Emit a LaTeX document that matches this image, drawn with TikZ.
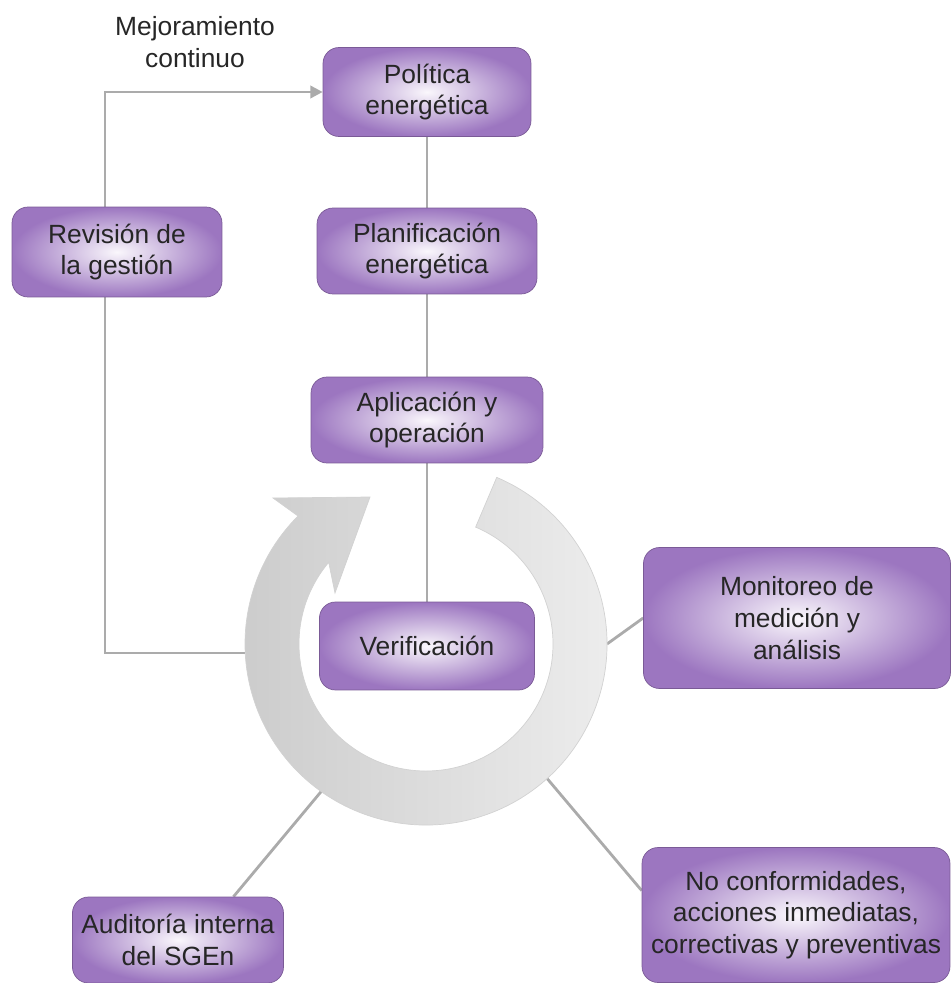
\documentclass[tikz,border=0pt]{standalone}
\usepackage{fontspec}
\setmainfont{Liberation Sans}
\usepackage{xcolor}
\usepackage{tikz}
\usetikzlibrary{arrows.meta,calc,backgrounds}

\definecolor{boxout}{HTML}{9C76C0}
\definecolor{boxin}{HTML}{FAF7FC}
\definecolor{boxedge}{HTML}{7A5A96}
\definecolor{txtgray}{HTML}{262626}
\definecolor{linkgray}{HTML}{ABABAB}
\definecolor{ringedge}{HTML}{D2D2D2}

\begin{document}
\begin{tikzpicture}[
  x=0.02cm, y=0.02cm,
  box/.style={rectangle, rounded corners=0.32cm, draw=boxedge, thin, inner color=boxin, outer color=boxout, align=center, text=txtgray, font=\fontsize{15}{18}\selectfont, inner sep=2pt},
  label/.style={align=center, text=txtgray, font=\fontsize{15}{18}\selectfont},
  link/.style={draw=linkgray, line width=1.6pt},
  ring/.style={draw=ringedge, thin, left color=gray!40, right color=gray!13}
]
  \useasboundingbox (0,0) rectangle (951,-983);

  % central column
  \node[box, minimum width=4.16cm, minimum height=1.78cm] (pol) at (427,-92) {Política\\energética};
  \node[box, minimum width=4.4cm, minimum height=1.72cm] (plan) at (427,-251) {Planificación\\energética};
  \node[box, minimum width=4.64cm, minimum height=1.72cm] (apl) at (427,-420) {Aplicación y\\operación};
  \node[box, minimum width=4.3cm, minimum height=1.76cm] (verif) at (427,-646) {Verificación};

  % side boxes
  \node[box, minimum width=4.2cm, minimum height=1.8cm] (rev) at (117,-252) {Revisión de\\la gestión};
  \node[box, minimum width=6.14cm, minimum height=2.82cm] (moni) at (797,-618) {Monitoreo de\\medición y\\análisis};
  \node[box, minimum width=4.22cm, minimum height=1.72cm] (audit) at (178,-940) {Auditoría interna\\del SGEn};
  \node[box, minimum width=6.16cm, minimum height=2.7cm] (nc) at (796,-915) {No conformidades,\\acciones inmediatas,\\correctivas y preventivas};

  \node[label] (mejora) at (195,-42) {Mejoramiento\\continuo};

  % ring centre and points on it
  \coordinate (C) at (426,-644);
  \coordinate (ringW) at (245,-653);
  \coordinate (ringE) at ($(C)+(0:181)$);
  \coordinate (ringSW) at ($(C)+(234.6:181)$);
  \coordinate (ringSE) at ($(C)+(-48:181)$);

  \begin{pgfonlayer}{background}
    % connectors
    \draw[link] (pol) -- (plan);
    \draw[link] (plan) -- (apl);
    \draw[link] (apl) -- (verif);
    \draw[link, -{Triangle[length=7pt, width=7pt]}] (ringW) -- ++(-140,0) |- (pol.west);
    \draw[link] (ringE) -- (moni.west);
    \draw[link] (ringSW) -- (audit.38);
    \draw[link] (ringSE) -- (nc.171);

    % cycle arrow
    \path[ring] ($(C)+(67:181)$) arc[start angle=67, end angle=-225, radius=181]
      -- (273,-498) -- (370,-497) -- (335,-593)
      -- ($(C)+(140:127)$) arc[start angle=-220, end angle=67, radius=127] -- cycle;
  \end{pgfonlayer}
\end{tikzpicture}
\end{document}
